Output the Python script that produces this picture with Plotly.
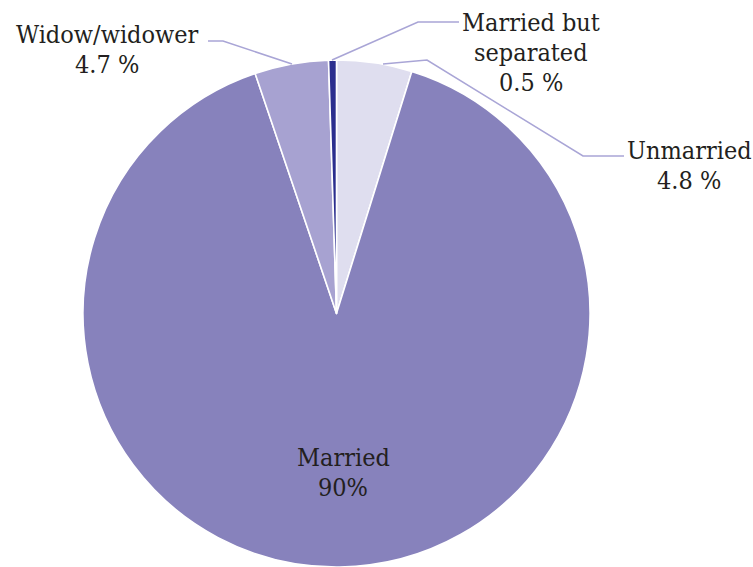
import plotly.graph_objects as go

# Marital status shares (%), clockwise from 12 o'clock
categories = ["Unmarried", "Married", "Widow/widower", "Married but separated"]
shares = [4.8, 90, 4.7, 0.5]
slice_colors = ["#dfdeef", "#8782bc", "#a7a2d1", "#2b2e8e"]

W, H = 753, 567
FONT = "DejaVu Serif Condensed"
SIZE = 25
LINE_GAP = 30
TXT = "#231f20"
LEADER = "#a9a5d6"


def px(x):
    return x / W


def py(y):
    return 1 - y / H


fig = go.Figure(
    go.Pie(
        labels=categories,
        values=shares,
        marker=dict(colors=slice_colors, line=dict(color="white", width=1.6)),
        sort=False,
        direction="clockwise",
        rotation=0,
        textinfo="none",
        hoverinfo="label+percent",
        domain=dict(x=[px(83), px(590)], y=[py(567), py(60)]),
        showlegend=False,
    )
)


def fmt(v, space=True):
    return f"{v:g}" + (" %" if space else "%")


# label lines: (text lines, centre x, first baseline y)
labels = [
    ([categories[2], fmt(shares[2])], 107, 42),
    (["Married but", "separated", fmt(shares[3])], 531, 30),
    ([categories[0], fmt(shares[0])], 689, 158),
    ([categories[1], fmt(shares[1], space=False)], 343, 465),
]
annotations = []
for lines, cx, base in labels:
    for i, t in enumerate(lines):
        annotations.append(
            dict(
                x=px(cx), y=py(base + i * LINE_GAP - 8),
                xref="paper", yref="paper",
                text=t, showarrow=False,
                xanchor="center", yanchor="middle",
                font=dict(family=FONT, size=SIZE, color=TXT),
            )
        )

# leader lines from labels to slices
leaders = [
    [(208, 41), (223, 41), (292, 64)],
    [(332, 60), (418, 22), (459, 22)],
    [(383, 64), (427, 60), (583, 156), (624, 156)],
]
shapes = []
for pts in leaders:
    path = "M " + " L ".join(f"{px(x)},{py(y)}" for x, y in pts)
    shapes.append(
        dict(type="path", xref="paper", yref="paper", path=path,
             line=dict(color=LEADER, width=1.6))
    )

fig.update_layout(
    width=W, height=H,
    margin=dict(l=0, r=0, t=0, b=0),
    paper_bgcolor="white",
    plot_bgcolor="white",
    font=dict(family=FONT),
    annotations=annotations,
    shapes=shapes,
)

fig.write_html("out.html")
